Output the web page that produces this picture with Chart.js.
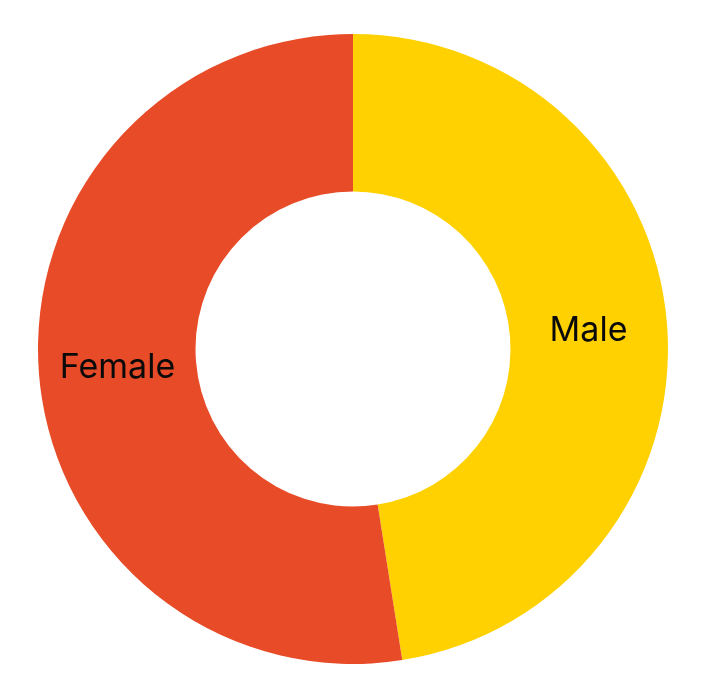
<!DOCTYPE html>
<html>
<head>
<meta charset="utf-8">
<script src="https://cdn.jsdelivr.net/npm/chart.js@4/dist/chart.umd.min.js"></script>
<style>
  html, body { margin: 0; padding: 0; background: #fff; }
  #wrap { width: 706px; height: 700px; }
</style>
</head>
<body>
<div id="wrap"><canvas id="genderDonut"></canvas></div>
<script>
const labels = ["Male", "Female"];
const values = [47.5, 52.5];
const colors = ["#FFD100", "#E84B27"];

// draws each category name in the middle of its slice
const sliceLabels = {
  id: "sliceLabels",
  afterDatasetsDraw(chart) {
    const ctx = chart.ctx;
    const meta = chart.getDatasetMeta(0);
    ctx.save();
    ctx.font = "34px Inter";
    ctx.fillStyle = "#0a0a0a";
    ctx.textAlign = "center";
    ctx.textBaseline = "middle";
    meta.data.forEach((arc, i) => {
      const p = arc.tooltipPosition();
      ctx.fillText(chart.data.labels[i], p.x, p.y);
    });
    ctx.restore();
  }
};

new Chart(document.getElementById("genderDonut"), {
  type: "doughnut",
  data: {
    labels: labels,
    datasets: [
      {
        data: values,
        backgroundColor: colors,
        borderWidth: 0,
        hoverOffset: 0
      }
    ]
  },
  options: {
    responsive: true,
    maintainAspectRatio: false,
    animation: false,
    cutout: "50%",
    layout: { padding: { top: 34, bottom: 36, left: 38, right: 38 } },
    plugins: {
      legend: { display: false },
      tooltip: { enabled: false }
    }
  },
  plugins: [sliceLabels]
});
</script>
</body>
</html>
